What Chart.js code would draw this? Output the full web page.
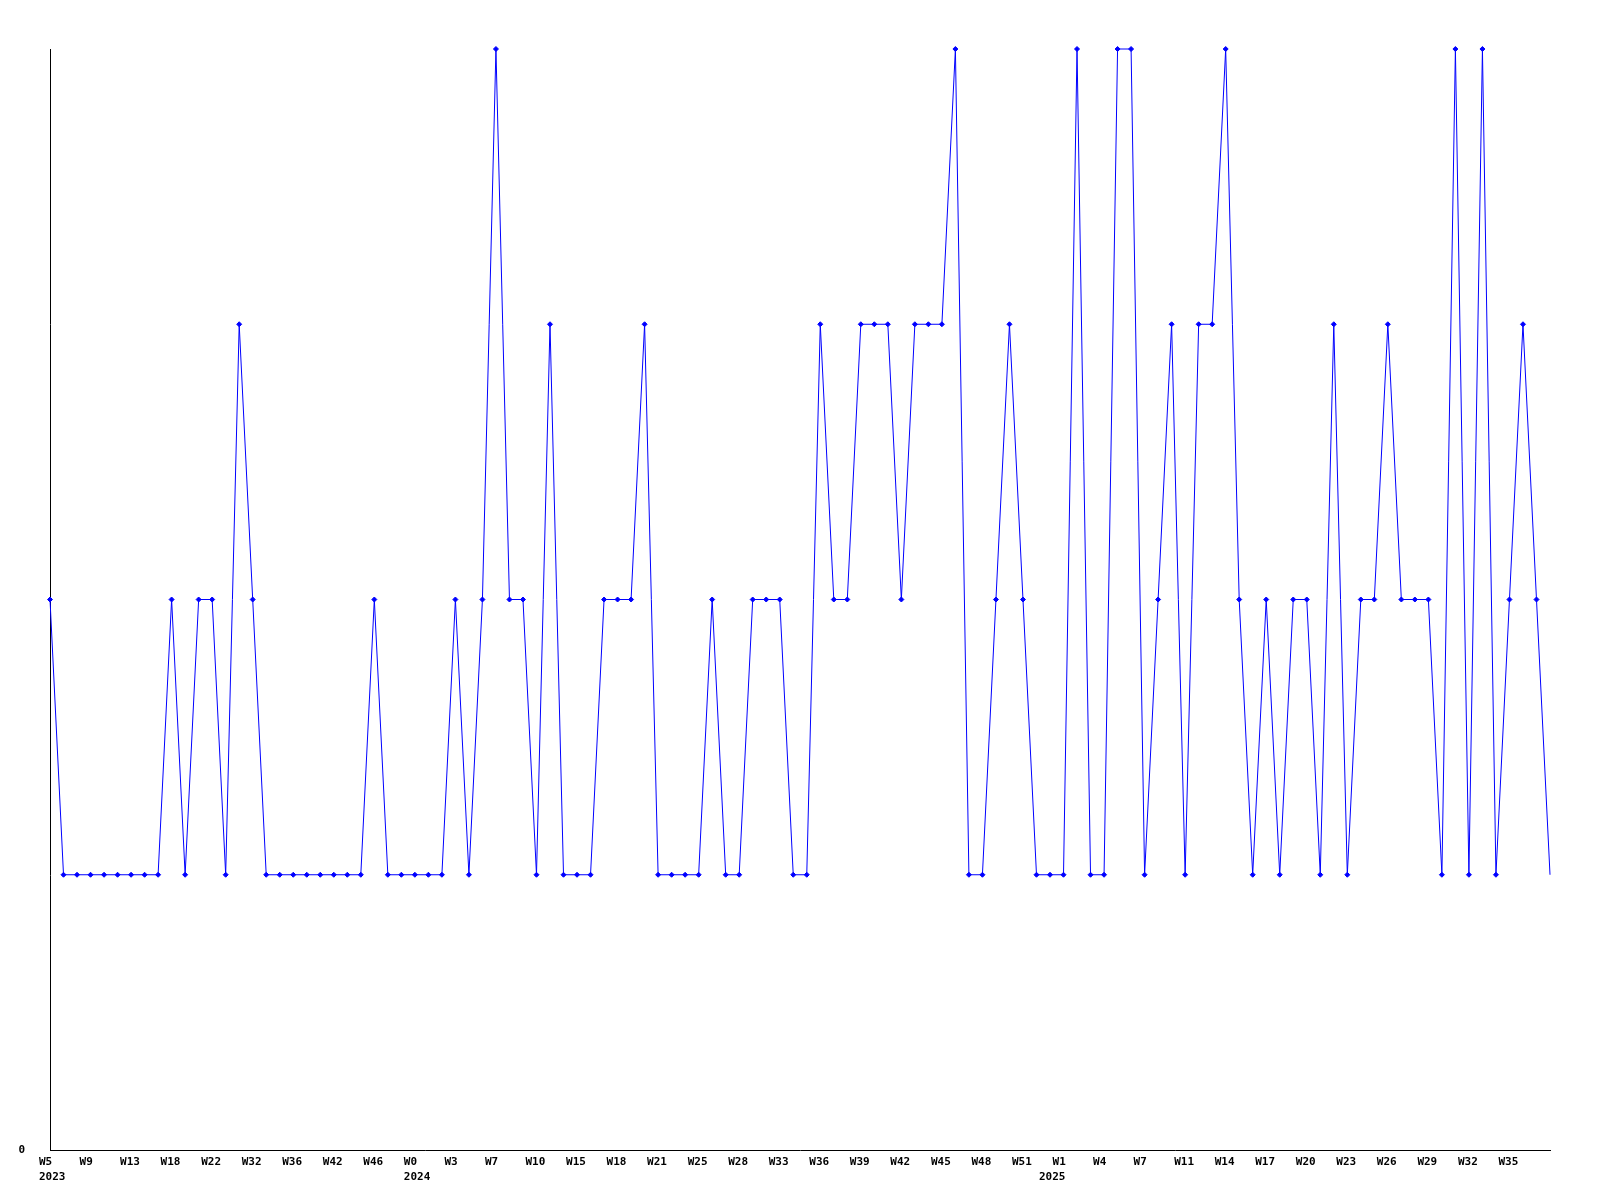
<!DOCTYPE html>
<html>
<head>
<meta charset="utf-8">
<script src="https://cdn.jsdelivr.net/npm/chart.js@4/dist/chart.umd.min.js"></script>
<style>
  html, body { margin: 0; padding: 0; background: #ffffff; }
  #wrap { width: 1600px; height: 1200px; position: relative; }
</style>
</head>
<body>
<div id="wrap"><canvas id="c" width="1600" height="1200"></canvas></div>
<script>
// Tick labels shown on the x axis (every third category)
const shownTicks = ['W5','W9','W13','W18','W22','W32','W36','W42','W46','W0','W3','W7','W10','W15','W18','W21','W25','W28','W33','W36','W39','W42','W45','W48','W51','W1','W4','W7','W11','W14','W17','W20','W23','W26','W29','W32','W35'];
// Year sub-labels: category index where each year label sits, and its text
const yearCatIdx = [0, 27, 74];
const yearLabels = ['2023', '2024', '2025'];
// Series values (one per category)
const values = [
  2,1,1,1,1,1,1,1,1,2,
  1,2,2,1,3,2,1,1,1,1,
  1,1,1,1,2,1,1,1,1,1,
  2,1,2,4,2,2,1,3,1,1,
  1,2,2,2,3,1,1,1,1,2,
  1,1,2,2,2,1,1,3,2,2,
  3,3,3,2,3,3,3,4,1,1,
  2,3,2,1,1,1,4,1,1,4,
  4,1,2,3,1,3,3,4,2,1,
  2,1,2,2,1,3,1,2,2,3,
  2,2,2,1,4,1,4,1,2,3,
  2,1
];
const yTickLabels = ['0'];

// Categories: every third one carries a visible week label; some carry a year line
const categories = values.map((_, i) => {
  const w = (i % 3 === 0) ? (shownTicks[i / 3] || '') : '';
  const yi = yearCatIdx.indexOf(i);
  return yi >= 0 ? [w, yearLabels[yi]] : w;
});

const FONT = { family: '"DejaVu Sans Mono", "Liberation Mono", monospace', size: 11, weight: 'bold', lineHeight: 15/11 };

new Chart(document.getElementById('c'), {
  type: 'line',
  data: {
    labels: categories,
    datasets: [{
      data: values,
      borderColor: '#0000ff',
      backgroundColor: '#0000ff',
      borderWidth: 1,
      pointStyle: 'rectRot',
      pointRadius: ctx => ctx.dataIndex === values.length - 1 ? 0 : 2.5,
      pointBorderWidth: 1,
      pointBorderColor: '#0000ff',
      pointBackgroundColor: '#0000ff',
      tension: 0,
      fill: false,
      clip: false
    }]
  },
  options: {
    responsive: false,
    animation: false,
    devicePixelRatio: 1,
    layout: { padding: { top: 49, right: 50, left: 0, bottom: 0 } },
    plugins: { legend: { display: false }, tooltip: { enabled: false }, title: { display: false } },
    scales: {
      x: {
        type: 'category',
        offset: false,
        grid: { display: false, drawTicks: false },
        border: { display: true, color: '#000000', width: 1 },
        ticks: {
          autoSkip: false,
          maxRotation: 0,
          minRotation: 0,
          align: 'start',
          labelOffset: -11,
          padding: 5,
          color: '#000000',
          font: FONT
        },
        afterFit: s => { s.height = 50; }
      },
      y: {
        min: 0,
        max: 4,
        grid: { display: false, drawTicks: false },
        border: { display: true, color: '#000000', width: 1 },
        ticks: {
          stepSize: 4,
          padding: 25,
          color: '#000000',
          font: FONT,
          callback: v => (v === 0 ? yTickLabels[0] : '')
        },
        afterFit: s => { s.width = 50; }
      }
    }
  }
});
</script>
</body>
</html>
